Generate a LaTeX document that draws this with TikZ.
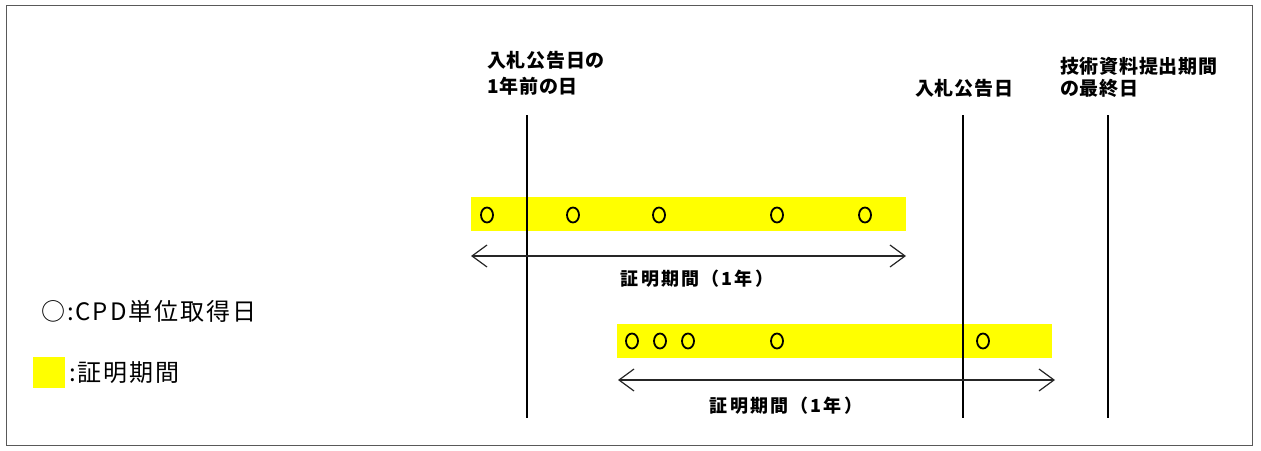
\documentclass[tikz,border=0pt]{standalone}
\usepackage{fontspec}
\setmainfont{Noto Sans CJK JP}
\usepackage{tikz}
\usetikzlibrary{arrows.meta,shapes.geometric,positioning}
\definecolor{hilite}{RGB}{255,255,0}
\tikzstyle{datetext} = [font=\fontsize{19}{26}\selectfont\bfseries\addfontfeatures{LetterSpace=4}, align=left, inner sep=0pt]
\tikzstyle{spantext} = [font=\fontsize{18}{20}\selectfont\bfseries\addfontfeatures{LetterSpace=12}, inner sep=0pt]
\tikzstyle{keytext} = [font=\fontsize{24}{28}\selectfont\addfontfeatures{LetterSpace=8}, inner sep=0pt]
\tikzstyle{marker} = [draw, line width=2.4pt]
\tikzstyle{period} = [fill=hilite, rectangle, minimum width=435pt, minimum height=34pt, inner sep=0pt]
\tikzstyle{credit} = [draw, ellipse, line width=1.8pt, minimum width=12pt, minimum height=15pt, inner sep=0pt]
\tikzstyle{span} = [draw, black!85, line width=1.2pt, {Straight Barb[length=15pt, width=22pt]}-{Straight Barb[length=15pt, width=22pt]}]

\begin{document}
\begin{tikzpicture}[x=1pt, y=-1pt]
        \useasboundingbox (0,0) rectangle (1261,450);
        \draw[black!65, line width=1pt] (6,5) rectangle (1252,445);
        % dates
        \node[datetext, anchor=north west] (prev) at (487,51) {入札公告日の\\1年前の日};
        \node[datetext, anchor=south west] (notice) at (915,98) {入札公告日};
        \node[datetext, anchor=north west] (last) at (1060,57) {技術資料提出期間\\[-4pt]の最終日};
        \coordinate (prevtop) at (527,115);
        \coordinate (prevbot) at (527,418);
        \coordinate (noticetop) at (963,115);
        \coordinate (noticebot) at (963,418);
        \coordinate (lasttop) at (1108,115);
        \coordinate (lastbot) at (1108,418);
        % periods
        \node[period] (bar1) at (688.5,213.5) {};
        \node[period] (bar2) at (834,341) {};
        \foreach \x in {487,573,659,777,865}
            \node[credit] at (\x,215) {};
        \foreach \x in {632,660,688,777,983}
            \node[credit] at (\x,341) {};
        \draw[marker] (prevtop) -- (prevbot);
        \draw[marker] (noticetop) -- (noticebot);
        \draw[marker] (lasttop) -- (lastbot);
        \coordinate (span1l) at (471,256);
        \coordinate (span1r) at (906,256);
        \coordinate (span2l) at (618,380);
        \coordinate (span2r) at (1055,380);
        \path[span] (span1l) -- (span1r);
        \path[span] (span2l) -- (span2r);
        \node[spantext] (len1) at (697,279) {証明期間（1年）};
        \node[spantext] (len2) at (786,406) {証明期間（1年）};
        % key
        \node[keytext, anchor=west] (keycirc) at (41,311) {○:CPD単位取得日};
        \node[fill=hilite, minimum width=32pt, minimum height=31pt, inner sep=0pt] (keybox) at (49,372.5) {};
        \node[keytext, right=4pt of keybox] (keyspan) {:証明期間};
\end{tikzpicture}
\end{document}
